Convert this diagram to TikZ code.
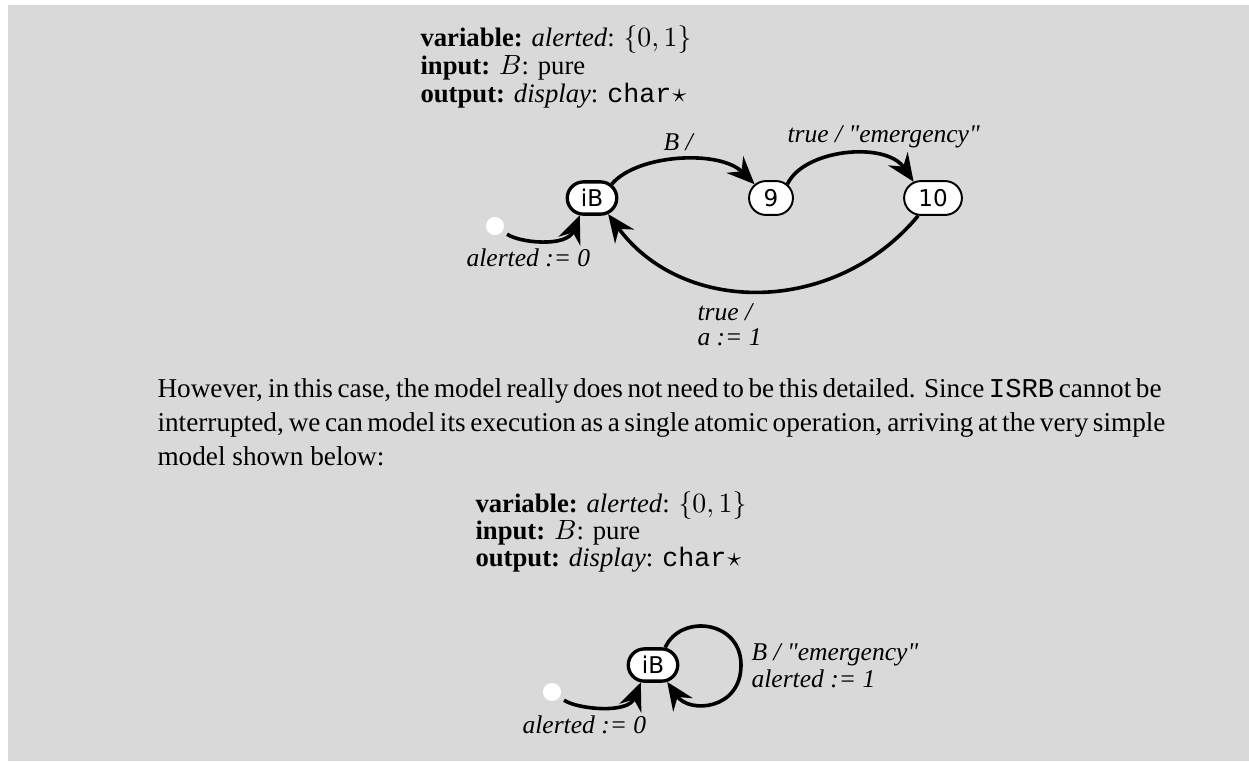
\documentclass[tikz,border=0pt]{standalone}
\usepackage{fontspec}
\setmainfont{Liberation Serif}
\setmonofont{Liberation Mono}
\newfontfamily\nodefont{DejaVu Sans}
\usetikzlibrary{shapes.misc,arrows.meta}
\definecolor{bg}{RGB}{217,217,217}
\tikzset{
 st/.style={rounded rectangle, draw, fill=white, line width=0.7pt,
   font=\nodefont\fontsize{8.3}{9}\selectfont, inner xsep=0pt, inner ysep=0pt,
   minimum height=12.2pt},
 stinit/.style={st, line width=1.2pt, minimum height=11.6pt, minimum width=17.8pt},
 initdot/.style={circle, fill=white, minimum size=6.5pt, inner sep=0pt},
 arr/.style={line width=1.3pt, -{Stealth[length=10pt,width=8.5pt,inset=3.4pt]}},
 lab/.style={font=\fontsize{9.2}{9.6}\selectfont\itshape, inner sep=0pt, anchor=base west, align=left},
 decl/.style={font=\fontsize{9.6}{10}\selectfont, inner sep=0pt, anchor=base west},
 para/.style={font=\fontsize{9.8}{12}\selectfont, inner sep=0pt, anchor=base west},
}
\newcommand{\chstar}{\texttt{char}\makebox[0.6em]{$\star$}}
\newcommand{\qq}{\textquotedbl}
\begin{document}
\begin{tikzpicture}[x=0.36pt,y=-0.36pt]
\useasboundingbox (0,0) rectangle (1249,761);
\fill[bg] (8,5) rectangle (1249,761);
% top declarations
\node[decl] (v1) at (420,46) {\textbf{variable:} \textit{alerted}: $\{0,1\}$};
\node[decl] (i1) at (420,74) {\textbf{input:} $B$: pure};
\node[decl] (o1) at (420,102) {\textbf{output:} \textit{display}: \chstar};
% top machine
\node[stinit] (iB) at (592,198) {iB};
\node[st, minimum width=15.8pt] (n9) at (771,198) {9};
\node[st, minimum width=20.8pt] (n10) at (933,198) {10};
\node[initdot] (d1) at (495,226) {};
\draw[arr, shorten <=1.8pt] (d1) .. controls +(25,17) and +(-13,32) .. (iB.-125);
\draw[arr] (iB.35) .. controls +(25,-30) and +(-35,-35) .. (n9.140);
\draw[arr] (n9.40) .. controls +(16,-35) and +(-28,-41) .. (n10.140);
\draw[arr] (n10.-130) .. controls +(-83,100) and +(75,102) .. (iB.-45);
\node[lab] (l1) at (466,266) {alerted := 0};
\node[lab] (l2) at (663,150) {B /};
\node[lab] (l3) at (787,142) {true / \qq emergency\qq};
\node[lab] (l4) at (697,320) {true /};
\node[lab] (l5) at (697,345) {a := 1};
% paragraph
\node[para] (p1) at (157,397) {\makebox[343.08pt][s]{However, in this case, the model really does not need to be this detailed. Since \texttt{ISRB} cannot be}};
\node[para] (p2) at (157,431) {\makebox[343.08pt][s]{interrupted, we can model its execution as a single atomic operation, arriving at the very simple}};
\node[para] (p3) at (157,465) {model shown below:};
% bottom declarations
\node[decl] (v2) at (475,512) {\textbf{variable:} \textit{alerted}: $\{0,1\}$};
\node[decl] (i2) at (475,539) {\textbf{input:} $B$: pure};
\node[decl] (o2) at (475,566) {\textbf{output:} \textit{display}: \chstar};
% bottom machine
\node[stinit] (iB2) at (653,665) {iB};
\node[initdot] (d2) at (552,692) {};
\draw[arr, shorten <=1.8pt] (d2) .. controls +(25,17) and +(-13,32) .. (iB2.-125);
\coordinate (loopR) at (741,665);
\draw[arr] (iB2.55) .. controls +(15,-34) and +(0,-45) .. (loopR) .. controls +(0,45) and +(22,32) .. (iB2.-50);
\node[lab] (l6) at (522,733) {alerted := 0};
\node[lab] (l7) at (751,660) {B / \qq emergency\qq};
\node[lab] (l8) at (751,687) {alerted := 1};
\end{tikzpicture}
\end{document}
